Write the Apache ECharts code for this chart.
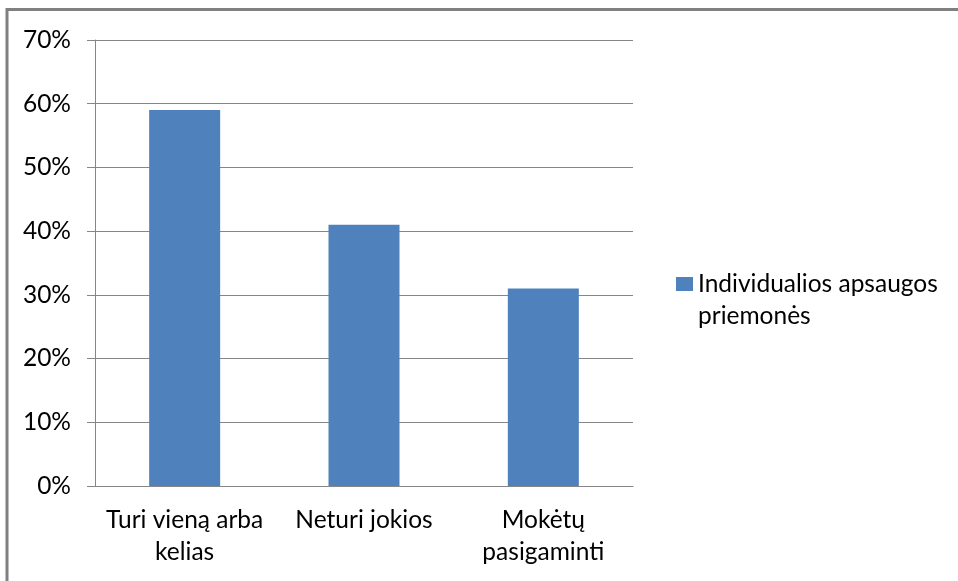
<!DOCTYPE html>
<html>
<head>
<meta charset="utf-8">
<script src="https://cdn.jsdelivr.net/npm/echarts@6/dist/echarts.min.js"></script>
<style>
html,body{margin:0;padding:0;background:#fff;}
#c{width:958px;height:581px;}
</style>
</head>
<body>
<div id="c"></div>
<script>
const categories = ['Turi vieną arba\nkelias', 'Neturi jokios', 'Mokėtų\npasigaminti'];
const seriesName = 'Individualios apsaugos priemonės';
const legendLabel = ' \nIndividualios apsaugos\npriemonės';
const values = [59, 41, 31];
const yTicks = { min: 0, max: 70, interval: 10 };

const FONT = 'Lato';
const chart = echarts.init(document.getElementById('c'), null, { renderer: 'canvas' });
chart.setOption({
  animation: false,
  backgroundColor: '#ffffff',
  textStyle: { fontFamily: FONT },
  graphic: [{
    type: 'rect',
    shape: { x: 7, y: 9.5, width: 1200, height: 1200 },
    style: { fill: 'none', stroke: '#808080', lineWidth: 3 },
    silent: true
  }],
  grid: { left: 95, right: 325, top: 40, bottom: 95, containLabel: false },
  legend: {
    left: 676,
    top: 236,
    padding: 0,
    itemWidth: 17,
    itemHeight: 14,
    icon: 'rect',
    formatter: () => legendLabel,
    textStyle: { fontFamily: FONT, fontSize: 24.5, color: '#000', lineHeight: 32 },
    data: [seriesName]
  },
  xAxis: {
    type: 'category',
    data: categories,
    axisLine: { lineStyle: { color: '#868686', width: 1 } },
    axisTick: { length: 7, lineStyle: { color: '#868686' } },
    axisLabel: { fontFamily: FONT, fontSize: 24.5, color: '#000', lineHeight: 32, margin: 18, interval: 0 }
  },
  yAxis: {
    type: 'value',
    min: yTicks.min, max: yTicks.max, interval: yTicks.interval,
    axisLine: { show: true, lineStyle: { color: '#868686', width: 1 } },
    axisTick: { show: true, length: 8, lineStyle: { color: '#868686' } },
    splitLine: { lineStyle: { color: '#868686', width: 1 } },
    axisLabel: { fontFamily: FONT, fontSize: 24.5, color: '#000', margin: 24, formatter: v => v + '%' }
  },
  series: [{
    name: seriesName,
    type: 'bar',
    data: values,
    barWidth: 71,
    itemStyle: { color: '#4F81BD' }
  }]
});
</script>
</body>
</html>
